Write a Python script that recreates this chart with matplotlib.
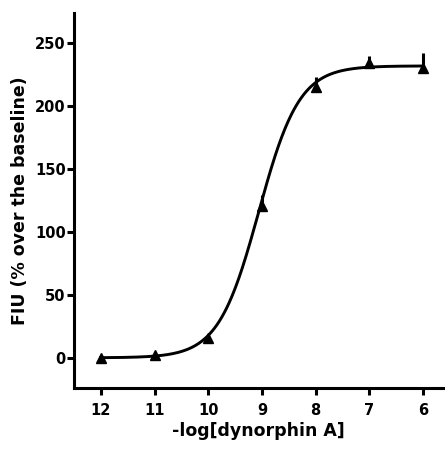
import numpy as np
import matplotlib
matplotlib.use("Agg")
import matplotlib.pyplot as plt

plt.rcParams['font.family'] = ['DejaVu Sans']
plt.rcParams['font.weight'] = 'bold'

# data
log_conc = [12, 11, 10, 9, 8, 7, 6]
response = [0, 2, 16, 121, 215, 234, 230]
err_upper = [0, 0, 0, 8, 8, 6, 12]
xticks = [12, 11, 10, 9, 8, 7, 6]
yticks = [0, 50, 100, 150, 200, 250]

# sigmoid fit parameters
fit_bottom = 0.0
fit_top = 232.0
fit_pec50 = 9.06
fit_hill = 1.15

fig = plt.figure(figsize=(4.45, 4.49), dpi=100)
ax = fig.add_axes([0.1663, 0.1359, 0.829, 0.835])

xs = np.linspace(12, 6, 400)
ys = fit_bottom + (fit_top - fit_bottom) / (1 + 10 ** ((xs - fit_pec50) * fit_hill))
ax.plot(xs, ys, color='black', lw=2.1, zorder=2)

ax.errorbar(log_conc, response, yerr=[np.zeros(len(err_upper)), err_upper],
            fmt='none', ecolor='black', elinewidth=2.2, capsize=0, zorder=3)
ax.plot(log_conc, response, linestyle='none', marker='^', color='black',
        markersize=7.8, zorder=4)

ax.set_xlim(12.5, 5.63)
ax.set_ylim(-24, 274)
ax.set_xticks(xticks)
ax.set_xticklabels([str(t) for t in xticks])
ax.set_yticks(yticks)

for s in ['top', 'right']:
    ax.spines[s].set_visible(False)
for s in ['left', 'bottom']:
    ax.spines[s].set_linewidth(2.2)

ax.tick_params(axis='both', width=2.2, length=5, labelsize=10.5)
ax.tick_params(axis='y', pad=1)
ax.tick_params(axis='x', pad=6)
for lab in ax.get_xticklabels() + ax.get_yticklabels():
    lab.set_fontweight('bold')

ax.set_xlabel('-log[dynorphin A]', fontsize=12.5, fontweight='bold', labelpad=3)
ax.set_ylabel('FIU (% over the baseline)', fontsize=12.5, fontweight='bold', labelpad=4)

fig.savefig('out.png', dpi=100)
